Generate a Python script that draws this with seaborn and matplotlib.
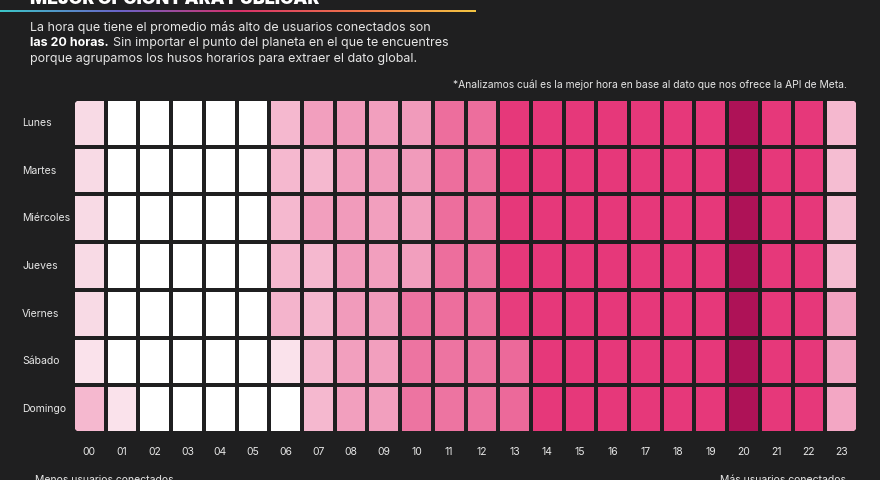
import numpy as np
import pandas as pd
import seaborn as sns
import matplotlib
matplotlib.use("Agg")
import matplotlib.pyplot as plt
from matplotlib.colors import LinearSegmentedColormap
from matplotlib.patches import Polygon
from matplotlib.transforms import IdentityTransform

# ---------------- data ----------------
days = ["Lunes", "Martes", "Miércoles", "Jueves", "Viernes", "Sábado", "Domingo"]
hours = [f"{h:02d}" for h in range(24)]

lunes     = [15, 0, 0, 0, 0, 0, 30, 42, 44, 42, 44, 60, 60, 80, 80, 80, 80, 80, 80, 80, 100, 80, 80, 30]
martes    = [15, 0, 0, 0, 0, 0, 30, 30, 42, 44, 44, 60, 60, 80, 80, 80, 80, 80, 80, 80, 100, 80, 80, 28]
miercoles = [15, 0, 0, 0, 0, 0, 30, 42, 44, 42, 42, 60, 60, 80, 80, 80, 80, 80, 80, 80, 100, 80, 80, 28]
jueves    = [15, 0, 0, 0, 0, 0, 30, 30, 44, 42, 42, 60, 60, 80, 80, 80, 80, 80, 80, 80, 100, 80, 80, 28]
viernes   = [15, 0, 0, 0, 0, 0, 32, 30, 44, 44, 58, 60, 60, 78, 80, 80, 80, 80, 80, 80, 100, 80, 80, 40]
sabado    = [12, 0, 0, 0, 0, 0, 12, 30, 42, 42, 58, 58, 58, 62, 80, 80, 80, 80, 80, 80, 100, 80, 80, 40]
domingo   = [30, 12, 0, 0, 0, 0, 0, 30, 42, 42, 58, 58, 58, 62, 80, 80, 80, 80, 80, 80, 100, 80, 80, 38]

df = pd.DataFrame([lunes, martes, miercoles, jueves, viernes, sabado, domingo],
                  index=days, columns=hours)

# ---------------- style ----------------
BG = "#1f1f20"
TXT = "#e6e6e6"
cmap = LinearSegmentedColormap.from_list("pinks", [
    (0.00, "#ffffff"),
    (0.15, "#f8dae5"),
    (0.30, "#f5b8cf"),
    (0.44, "#f19bbb"),
    (0.60, "#ed6e9d"),
    (0.80, "#e6387a"),
    (1.00, "#ae1257"),
])

sns.set_theme(style="white")
plt.rcParams["font.family"] = ["Inter", "DejaVu Sans"]

W, H = 880, 480
fig = plt.figure(figsize=(W / 100, H / 100), dpi=100, facecolor=BG)

ax_l, ax_r, ax_t, ax_b = 73, 858, 99, 433
ax = fig.add_axes([ax_l / W, 1 - ax_b / H, (ax_r - ax_l) / W, (ax_b - ax_t) / H])
ax.set_facecolor(BG)

sns.heatmap(df, ax=ax, cmap=cmap, vmin=0, vmax=100, cbar=False,
            linewidths=1.5, linecolor=BG)

for s in ax.spines.values():
    s.set_visible(False)

ax.tick_params(axis="both", length=0)
ax.set_xticklabels(hours, rotation=0, color=TXT, fontsize=7.5)
ax.tick_params(axis="x", pad=10)
ax.set_yticklabels(days, rotation=0, color=TXT, fontsize=7.5, ha="left")
ax.tick_params(axis="y", pad=(ax_l - 22) * 0.72)
ax.set_xlabel("")
ax.set_ylabel("")

# ---------------- header ----------------
fig.text(30 / W, 1 - 4 / H, "MEJOR OPCIÓN PARA PUBLICAR", color="white",
         fontsize=12.8, fontweight="black", va="baseline", ha="left")

gax = fig.add_axes([0, 1 - 12 / H, 475 / W, 2 / H])
grad_cmap = LinearSegmentedColormap.from_list("grad", ["#3cc6c8", "#6a63c9", "#d8306a", "#f0744a", "#f4c542"])
gax.imshow(np.linspace(0, 1, 256).reshape(1, -1), aspect="auto", cmap=grad_cmap)
gax.axis("off")

fs_sub = 9.0
fig.text(30 / W, 1 - 27 / H, "La hora que tiene el promedio más alto de usuarios conectados son",
         color=TXT, fontsize=fs_sub, va="center", ha="left")
t_bold = fig.text(30 / W, 1 - 43 / H, "las 20 horas.", color="white", fontsize=fs_sub,
                  fontweight="bold", va="center", ha="left")
fig.canvas.draw()
bb = t_bold.get_window_extent()
fig.text((bb.x1 + 4) / W, 1 - 43 / H,
         "Sin importar el punto del planeta en el que te encuentres",
         color=TXT, fontsize=fs_sub, va="center", ha="left")
fig.text(30 / W, 1 - 59 / H, "porque agrupamos los husos horarios para extraer el dato global.",
         color=TXT, fontsize=fs_sub, va="center", ha="left")

fig.text(847 / W, 1 - 85 / H,
         "*Analizamos cuál es la mejor hora en base al dato que nos ofrece la API de Meta.",
         color=TXT, fontsize=7.4, va="center", ha="right")

# ---------------- footer ----------------
fig.text(35 / W, 1 - 480 / H, "Menos usuarios conectados", color=TXT, fontsize=7.5,
         va="center", ha="left")
fig.text(846 / W, 1 - 480 / H, "Más usuarios conectados", color=TXT, fontsize=7.5,
         va="center", ha="right")

# ---------------- rounded outer corners (background masks) ----------------
abb = ax.get_window_extent()
r = 10
theta = np.linspace(0, np.pi / 2, 24)
for cx, cy, dx, dy in [(abb.x0, abb.y1, 1, -1), (abb.x1, abb.y1, -1, -1),
                       (abb.x0, abb.y0, 1, 1), (abb.x1, abb.y0, -1, 1)]:
    ccx, ccy = cx + dx * r, cy + dy * r
    arc = np.column_stack([ccx - dx * r * np.cos(theta), ccy - dy * r * np.sin(theta)])
    pts = np.vstack([[cx - dx * 1.5, cy - dy * 1.5],
                     [cx - dx * 1.5, ccy],
                     arc,
                     [ccx, cy - dy * 1.5]])
    fig.add_artist(Polygon(pts, closed=True, facecolor=BG, edgecolor="none",
                           transform=IdentityTransform(), zorder=10))

fig.savefig("out.png", dpi=100, facecolor=BG)
